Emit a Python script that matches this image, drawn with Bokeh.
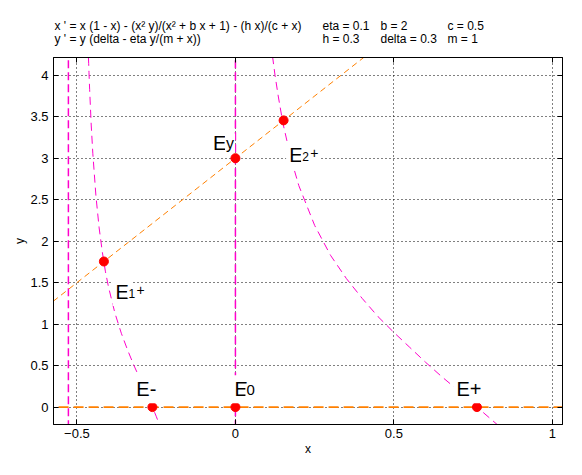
from bokeh.plotting import figure
from bokeh.models import Range1d, LinearAxis, FixedTicker, Label
from bokeh.layouts import column
from bokeh.core.properties import value
from bokeh.embed import file_html
from bokeh.resources import INLINE

# ---- data ----
# x-nullcline, branch with -0.5 < x < 0
left_x = [-0.4637, -0.463, -0.462, -0.46, -0.455, -0.45, -0.44, -0.43, -0.42, -0.41,
          -0.40, -0.38, -0.36, -0.34, -0.32, -0.30, -0.28, -0.262, -0.25, -0.24, -0.235]
left_y = [4.21, 4.14, 4.03, 3.83, 3.40, 3.06, 2.54, 2.16, 1.87, 1.63,
          1.44, 1.13, 0.89, 0.685, 0.50, 0.33, 0.155, 0.0, -0.11, -0.21, -0.256]
# x-nullcline, branch with x > 0
right_x = [0.117, 0.125, 0.135, 0.15, 0.175, 0.2, 0.25, 0.3, 0.35, 0.4,
           0.45, 0.5, 0.55, 0.6, 0.65, 0.7, 0.75, 0.762, 0.8, 0.83]
right_y = [4.23, 4.0, 3.75, 3.42, 3.0, 2.67, 2.19, 1.83, 1.55, 1.31,
           1.09, 0.90, 0.72, 0.54, 0.37, 0.21, 0.04, 0.0, -0.125, -0.224]
# vertical x-nullclines
vline_x = [-0.527, 0.0]
vline_y = [-0.4, 4.4]
# y-nullclines
hline_x = [-0.7, 1.2]
hline_y = [0.0, 0.0]
diag_x = [-0.6, 0.45]
diag_y = [1.2, 4.35]
# equilibria
eq_x = [0.0, -0.262, 0.762, 0.0, -0.415, 0.152]
eq_y = [0.0, 0.0, 0.0, 3.0, 1.755, 3.456]

x_ticks = [-0.5, 0, 0.5, 1]
y_ticks = [0, 0.5, 1, 1.5, 2, 2.5, 3, 3.5, 4]

# equilibrium labels (main part)
lab_text = ["E", "E-", "E+", "E", "E", "E"]
lab_x = [-0.0126, -0.322, 0.688, -0.080, -0.388, 0.160]
lab_y = [0.214, 0.214, 0.214, 3.182, 1.387, 3.033]
# sub/superscript parts
sub_text = ["0", "y", "1", "+", "2", "+"]
sub_x = [-0.0126, -0.080, -0.388, -0.388, 0.160, 0.160]
sub_y = [0.214, 3.182, 1.387, 1.387, 3.033, 3.033]
sub_dx = [14, 15, 15, 23, 15, 23]
sub_dy = [-1, 0, -1, 2, -1, 2]
sub_size = ["15px", "16px", "12px", "14px", "12px", "14px"]

eq1 = "x ' = x (1 - x) - (x\u00b2 y)/(x\u00b2 + b x + 1) - (h x)/(c + x)"
eq2 = "y ' = y (delta - eta y/(m + x))"
params_row1 = ["eta = 0.1", "b = 2", "c = 0.5"]
params_row2 = ["h = 0.3", "delta = 0.3", "m = 1"]

MAG = "#ff00cc"
ORA = "#ff8000"
FONT = "Liberation Sans"

# ---- layout (pixels) ----
W = 566
HEAD_H = 54
H = 405
B_LEFT, B_RIGHT, B_TOP, B_BOTTOM = 53, 4, 3, 35
X0, X1 = -0.574, 1.032
Y0, Y1 = -0.21, 4.214

# ---- header strip with the equations and parameters ----
# its frame lines up with the main frame; x data units equal canvas pixels
head = figure(width=W, height=HEAD_H, output_backend="svg", toolbar_location=None,
              x_axis_type=None, y_axis_type=None,
              x_range=Range1d(B_LEFT, W - B_RIGHT), y_range=Range1d(HEAD_H, 0),
              min_border=0, min_border_left=B_LEFT, min_border_right=B_RIGHT,
              min_border_top=0, min_border_bottom=0,
              background_fill_color="white", border_fill_color="white")
head.grid.visible = False
head.outline_line_color = None
row_py = [25, 38]
col_px = [322, 380, 447]
eq_px = 54
head.text(x=[eq_px, eq_px], y=row_py, text=[eq1, eq2], text_font=value(FONT),
          text_font_size="12px", text_baseline="alphabetic", text_color="black")
head.text(x=col_px, y=[row_py[0]] * 3, text=params_row1, text_font=value(FONT),
          text_font_size="12px", text_baseline="alphabetic", text_color="black")
head.text(x=col_px, y=[row_py[1]] * 3, text=params_row2, text_font=value(FONT),
          text_font_size="12px", text_baseline="alphabetic", text_color="black")

# ---- main plot ----
p = figure(width=W, height=H, output_backend="svg", toolbar_location=None,
           x_range=Range1d(X0, X1), y_range=Range1d(Y0, Y1),
           min_border_left=B_LEFT, min_border_right=B_RIGHT,
           min_border_top=B_TOP, min_border_bottom=B_BOTTOM,
           background_fill_color="white", border_fill_color="white")
p.outline_line_color = "black"
p.outline_line_width = 1
p.outline_line_alpha = 1

for ax in (p.xaxis[0], p.yaxis[0]):
    ax.major_tick_in = 5
    ax.major_tick_out = 0
    ax.minor_tick_line_color = None
    ax.axis_line_color = "black"
    ax.major_tick_line_color = "black"
    ax.major_label_text_font = FONT
    ax.major_label_text_font_size = "13px"
    ax.major_label_text_color = "black"
    ax.axis_label_text_font = FONT
    ax.axis_label_text_font_size = "12px"
    ax.axis_label_text_font_style = "normal"
    ax.axis_label_text_color = "black"
p.xaxis[0].ticker = FixedTicker(ticks=x_ticks)
p.yaxis[0].ticker = FixedTicker(ticks=y_ticks)
p.xaxis[0].axis_label = "x"
p.yaxis[0].axis_label = "y"
p.xaxis[0].major_label_standoff = 4
p.xaxis[0].axis_label_standoff = 1
p.yaxis[0].major_label_standoff = 5
p.yaxis[0].axis_label_standoff = 0

for loc, tk in (("right", y_ticks), ("above", x_ticks)):
    ax = LinearAxis(ticker=FixedTicker(ticks=tk), major_tick_in=5, major_tick_out=0,
                    minor_tick_line_color=None, major_label_text_font_size="1px",
                    major_label_overrides={t: "" for t in tk},
                    major_label_standoff=0, axis_line_color="black",
                    major_tick_line_color="black")
    p.add_layout(ax, loc)

p.xgrid.ticker = FixedTicker(ticks=x_ticks)
p.ygrid.ticker = FixedTicker(ticks=y_ticks)
for g in (p.xgrid[0], p.ygrid[0]):
    g.grid_line_color = "black"
    g.grid_line_dash = "1 3"
    g.grid_line_width = 1
    g.grid_line_alpha = 1

# nullclines
for vx in vline_x:
    p.line([vx, vx], vline_y, line_color=MAG, line_width=1.5, line_dash="8 4")
p.line(left_x, left_y, line_color=MAG, line_width=1.0, line_dash="8 5")
p.line(right_x, right_y, line_color=MAG, line_width=1.0, line_dash="8 5")
p.line(hline_x, hline_y, line_color=ORA, line_width=1.6, line_dash="10 5")
p.line(diag_x, diag_y, line_color=ORA, line_width=1.0, line_dash="6 4")

# equilibria
p.scatter(eq_x, eq_y, size=9, fill_color="red", line_color="red")

# labels
for t, lx, ly in zip(lab_text, lab_x, lab_y):
    p.add_layout(Label(x=lx, y=ly, text=t, text_font=FONT, text_font_size="20px",
                       text_baseline="alphabetic", text_color="black",
                       background_fill_color="white", background_fill_alpha=1,
                       padding=3))
for t, lx, ly, dx, dy, fs in zip(sub_text, sub_x, sub_y, sub_dx, sub_dy, sub_size):
    p.add_layout(Label(x=lx, y=ly, x_offset=dx, y_offset=dy, text=t, text_font=FONT,
                       text_font_size=fs, text_baseline="alphabetic", text_color="black",
                       background_fill_color="white", background_fill_alpha=1,
                       padding=1))

layout = column(head, p, spacing=0)
open("out.html", "w").write(file_html(layout, INLINE))
